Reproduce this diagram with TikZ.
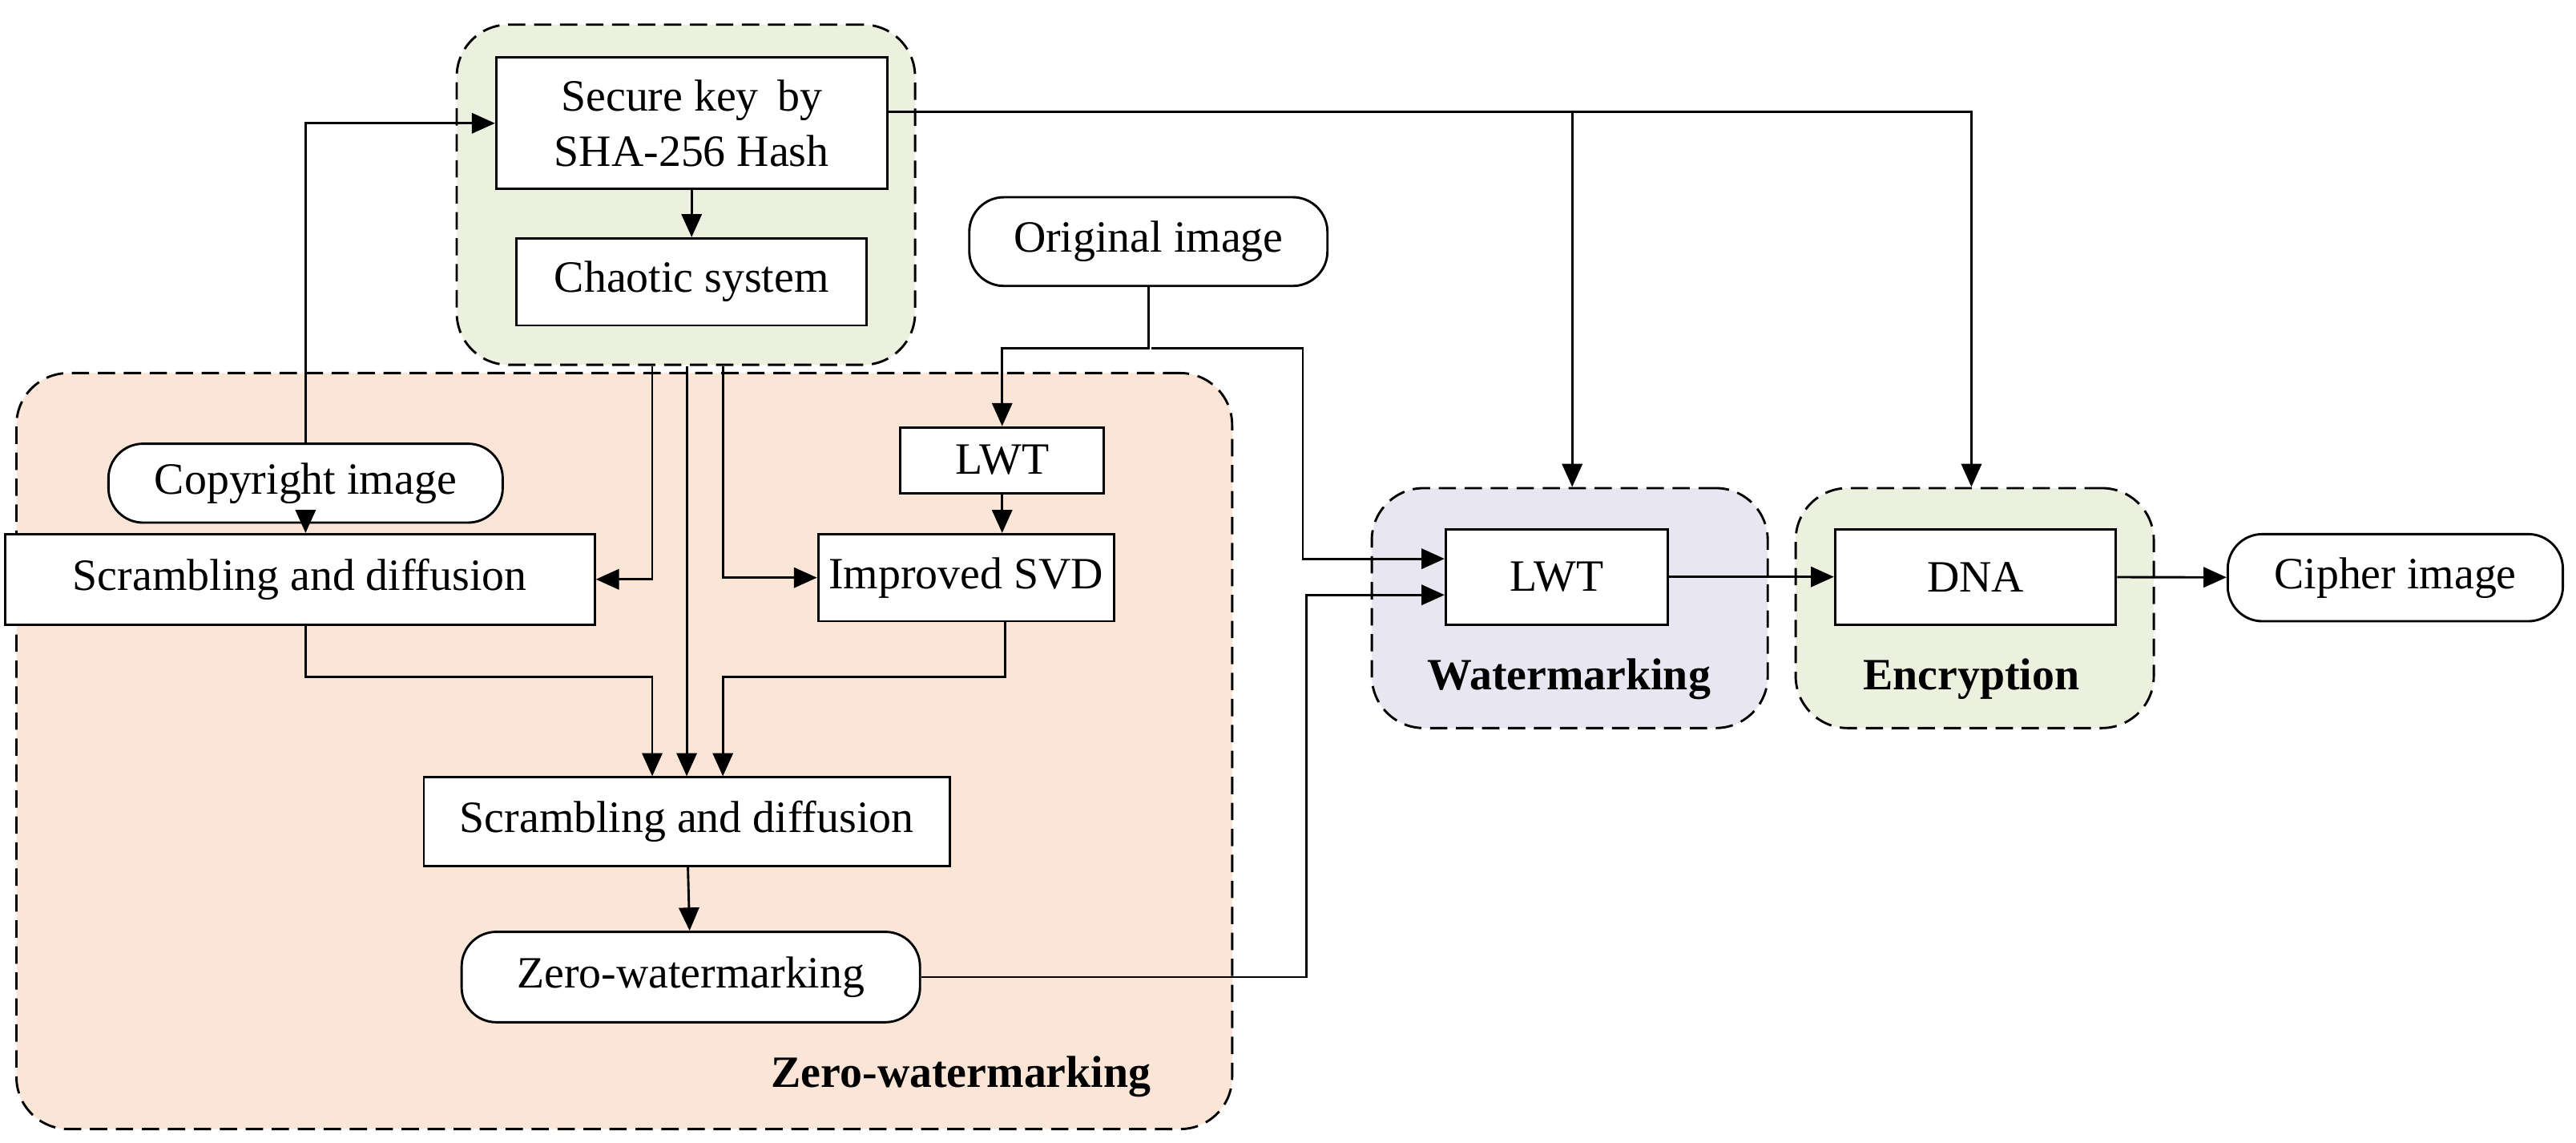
\documentclass[tikz,border=0pt]{standalone}
\usepackage{fontspec}
\setmainfont{Liberation Serif}
\usetikzlibrary{arrows.meta,positioning}
\definecolor{greenbg}{RGB}{235,241,222}
\definecolor{orangebg}{RGB}{251,229,214}
\definecolor{purplebg}{RGB}{232,230,240}
\begin{document}
\begin{tikzpicture}[x=0.02cm,y=-0.02cm,>={Triangle[length=8pt,width=7pt]},
    font=\fontsize{15.5}{19}\selectfont,
    box/.style={draw,thick,fill=white,inner sep=2pt},
    term/.style={box,rounded corners=12pt},
    group/.style={draw,thick,dash pattern=on 6pt off 3pt,rounded corners=18pt},
    line/.style={thick}]
    \useasboundingbox (0,0) rectangle (1568,695);
    % groups
    \node[group,fill=greenbg,minimum width=279*0.02cm,minimum height=207*0.02cm] (gkey) at (417.5,118.5) {};
    \node[group,fill=orangebg,minimum width=740*0.02cm,minimum height=460*0.02cm] (gzero) at (380,457) {};
    \node[group,fill=purplebg,minimum width=241*0.02cm,minimum height=146*0.02cm] (gwm) at (955.5,370) {};
    \node[group,fill=greenbg,minimum width=218*0.02cm,minimum height=146*0.02cm] (genc) at (1202,370) {};
    \node[font=\fontsize{15.5}{19}\selectfont\bfseries] at (585,655) {Zero-watermarking};
    \node[font=\fontsize{15.5}{19}\selectfont\bfseries] at (955,413) {Watermarking};
    \node[font=\fontsize{15.5}{19}\selectfont\bfseries] at (1200,413) {Encryption};

    % nodes
    \node[box,minimum width=238*0.02cm,minimum height=80*0.02cm,align=center] (key) at (421,75) {Secure key\, by\\SHA-256 Hash};
    \node[box,minimum width=213*0.02cm,minimum height=53*0.02cm] (chaos) at (421,171.5) {Chaotic system};
    \node[term,minimum width=218*0.02cm,minimum height=54*0.02cm] (orig) at (699,147) {Original image};
    \node[term,minimum width=240*0.02cm,minimum height=48*0.02cm] (copy) at (186,294) {Copyright image};
    \node[box,minimum width=124*0.02cm,minimum height=40*0.02cm] (lwta) at (610,280) {LWT};
    \node[box,minimum width=359*0.02cm,minimum height=55*0.02cm] (scra) at (182.5,352.5) {Scrambling and diffusion};
    \node[box,minimum width=180*0.02cm,minimum height=53*0.02cm] (svd) at (588,351.5) {Improved SVD};
    \node[box,minimum width=320*0.02cm,minimum height=54*0.02cm] (scrb) at (418,500) {Scrambling and diffusion};
    \node[term,minimum width=279*0.02cm,minimum height=55*0.02cm] (zero) at (420.5,594.5) {Zero-watermarking};
    \node[box,minimum width=135*0.02cm,minimum height=58*0.02cm] (lwtb) at (947.5,351) {LWT};
    \node[box,minimum width=171*0.02cm,minimum height=58*0.02cm] (dna) at (1202.5,351) {DNA};
    \node[term,minimum width=204*0.02cm,minimum height=53*0.02cm] (cipher) at (1458,351.5) {Cipher image};

    % connectors
    \draw[line,->] (copy.north) |- (key.west |- 0,75);
    \draw[line,->] (copy.south) -- (scra.north -| copy.south);
    \draw[line,->] (key) -- (chaos);
    \draw[line,->] (gkey.south -| 397,0) |- (scra.east);
    \draw[line,->] (gkey.south -| 418,0) -- (scrb.north -| 418,0);
    \draw[line,->] (gkey.south -| 440,0) |- (svd.west);
    \draw[line,->] (scra.south -| 186,0) |- (397,412) -- (scrb.north -| 397,0);
    \draw[line,->] (svd.south -| 612,0) |- (440,412) -- (scrb.north -| 440,0);
    \draw[line,->] (lwta.south) -- (svd.north -| lwta.south);
    \draw[line,->] (scrb) -- (zero);
    \draw[line,->] (orig.south) |- (610,212) -- (lwta.north);
    \draw[line,->] (701,212) -| (793,340) -- (lwtb.west |- 0,340);
    \draw[line,->] (zero.east) -| (795,362) -- (lwtb.west |- 0,362);
    \draw[line,->] (key.east |- 0,68) -| (genc.north -| 1200,0);
    \draw[line,->] (957,68) -- (gwm.north -| 957,0);
    \draw[line,->] (lwtb) -- (dna);
    \draw[line,->] (dna) -- (cipher);
\end{tikzpicture}
\end{document}
